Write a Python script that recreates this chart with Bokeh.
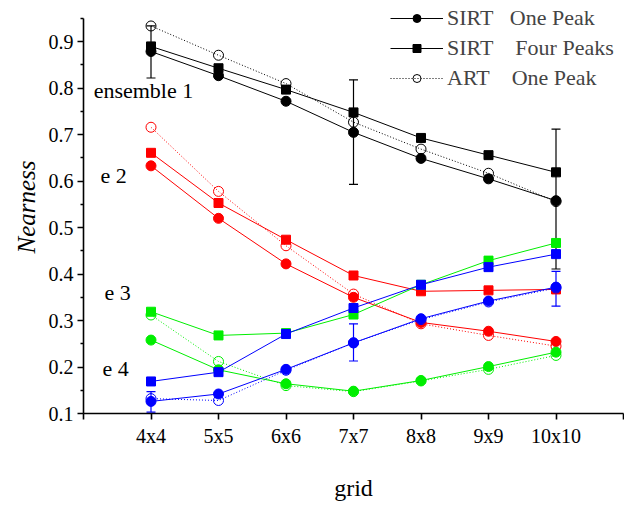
from bokeh.plotting import figure
from bokeh.models import (ColumnDataSource, FixedTicker, Legend, LegendItem,
                          Whisker, Label, TeeHead)
from bokeh.embed import file_html
from bokeh.resources import INLINE

# ---------------- data ----------------
grid_n = [4, 5, 6, 7, 8, 9, 10]
grid_labels = ["4x4", "5x5", "6x6", "7x7", "8x8", "9x9", "10x10"]

# ensemble 1 (black)
e1_sirt_one = [0.879, 0.827, 0.772, 0.705, 0.649, 0.605, 0.558]
e1_sirt_four = [0.890, 0.843, 0.797, 0.748, 0.693, 0.656, 0.619]
e1_art_one = [0.934, 0.871, 0.810, 0.727, 0.669, 0.617, 0.556]
# e 2 (red)
e2_sirt_one = [0.633, 0.520, 0.422, 0.350, 0.296, 0.277, 0.255]
e2_sirt_four = [0.661, 0.553, 0.474, 0.397, 0.363, 0.365, 0.367]
e2_art_one = [0.716, 0.578, 0.461, 0.357, 0.293, 0.268, 0.245]
# e 3 (green)
e3_sirt_one = [0.258, 0.194, 0.164, 0.148, 0.171, 0.201, 0.232]
e3_sirt_four = [0.319, 0.268, 0.273, 0.313, 0.377, 0.429, 0.467]
e3_art_one = [0.312, 0.212, 0.160, 0.147, 0.170, 0.195, 0.225]
# e 4 (blue)
e4_sirt_one = [0.126, 0.142, 0.195, 0.252, 0.304, 0.342, 0.372]
e4_sirt_four = [0.169, 0.189, 0.271, 0.327, 0.377, 0.415, 0.443]
e4_art_one = [0.132, 0.128, 0.193, 0.252, 0.302, 0.340, 0.370]

# error bars (SIRT One Peak)
err_n = [4, 7, 10]
e1_err_lower = [0.822, 0.593, 0.411]
e1_err_upper = [0.934, 0.818, 0.712]
e4_err_lower = [0.103, 0.213, 0.331]
e4_err_upper = [0.147, 0.293, 0.406]

group_names = ["ensemble 1", "e 2", "e 3", "e 4"]
group_label_x = [3.15, 3.25, 3.31, 3.28]
group_label_y = [0.795, 0.612, 0.361, 0.197]

legend_labels = ["SIRT\u00a0\u00a0\u00a0One Peak",
                 "SIRT\u00a0\u00a0\u00a0\u00a0Four Peaks",
                 "ART\u00a0\u00a0\u00a0\u00a0One Peak"]

FONT = "Liberation Serif"

# ---------------- figure ----------------
p = figure(width=624, height=505, output_backend="svg", toolbar_location=None,
           x_range=(3, 11), y_range=(0.1, 0.9888),
           min_border_left=83, min_border_right=1, min_border_top=0,
           min_border_bottom=92)
p.outline_line_color = None
p.xgrid.visible = False
p.ygrid.visible = False
p.background_fill_color = "white"
p.border_fill_color = "white"

# axes
p.xaxis.ticker = FixedTicker(ticks=[3, 4, 5, 6, 7, 8, 9, 10, 11], minor_ticks=[])
p.xaxis.major_label_overrides = {3: "", 11: "", **{n: l for n, l in zip(grid_n, grid_labels)}}
p.yaxis.ticker = FixedTicker(ticks=[0.1, 0.2, 0.3, 0.4, 0.5, 0.6, 0.7, 0.8, 0.9],
                             minor_ticks=[0.15, 0.25, 0.35, 0.45, 0.55, 0.65, 0.75, 0.85, 0.95])
p.yaxis.bounds = (0.1, 0.95)
for ax in (p.xaxis[0], p.yaxis[0]):
    ax.axis_line_width = 1.6
    ax.major_tick_line_width = 1.6
    ax.minor_tick_line_width = 1.6
    ax.major_tick_out = 6
    ax.major_tick_in = 0
    ax.minor_tick_out = 3
    ax.minor_tick_in = 0
    ax.major_label_text_font = FONT
    ax.major_label_text_font_size = "20px"
    ax.major_label_text_color = "black"
    ax.axis_label_text_font = FONT
    ax.axis_label_text_color = "black"
p.xaxis.major_label_standoff = 5
p.yaxis.major_label_standoff = 4
p.xaxis.axis_label = "grid"
p.xaxis.axis_label_text_font_size = "24px"
p.xaxis.axis_label_text_font_style = "normal"
p.xaxis.axis_label_standoff = 25
p.yaxis.axis_label = "Nearness"
p.yaxis.axis_label_text_font_size = "25px"
p.yaxis.axis_label_text_font_style = "italic"
p.yaxis.axis_label_standoff = 6

groups = [
    ("black", e1_sirt_one, e1_sirt_four, e1_art_one),
    ("#ff0000", e2_sirt_one, e2_sirt_four, e2_art_one),
    ("#00ee00", e3_sirt_one, e3_sirt_four, e3_art_one),
    ("#0000ff", e4_sirt_one, e4_sirt_four, e4_art_one),
]

legend_renderers = None
for color, one, four, art in groups:
    r_art_l = p.line(grid_n, art, line_color=color, line_width=1, line_dash="1 2")
    r_art_s = p.scatter(grid_n, art, marker="circle", size=10, fill_color=None,
                        line_color=color, line_width=1)
    r_four_l = p.line(grid_n, four, line_color=color, line_width=1)
    r_four_s = p.scatter(grid_n, four, marker="square", size=9, fill_color=color,
                         line_color=color, line_width=1)
    r_one_l = p.line(grid_n, one, line_color=color, line_width=1)
    r_one_s = p.scatter(grid_n, one, marker="circle", size=10, fill_color=color,
                        line_color=color, line_width=1)
    if legend_renderers is None:
        legend_renderers = [[r_one_l, r_one_s], [r_four_l, r_four_s], [r_art_l, r_art_s]]

# error bars
for color, lo, hi in (("black", e1_err_lower, e1_err_upper), ("#0000ff", e4_err_lower, e4_err_upper)):
    src = ColumnDataSource(dict(x=err_n, lower=lo, upper=hi))
    w = Whisker(source=src, base="x", lower="lower", upper="upper", dimension="height",
                line_color=color, line_width=1.2,
                upper_head=TeeHead(size=9, line_color=color, line_width=1.2),
                lower_head=TeeHead(size=9, line_color=color, line_width=1.2))
    p.add_layout(w)

# group labels
for name, lx, ly in zip(group_names, group_label_x, group_label_y):
    p.add_layout(Label(x=lx, y=ly, text=name, text_font=FONT, text_font_size="22px",
                       text_baseline="middle", text_align="left", text_color="black"))

legend = Legend(items=[LegendItem(label=lab, renderers=rs)
                       for lab, rs in zip(legend_labels, legend_renderers)],
                location=(307, 322), padding=0, margin=0, spacing=4,
                glyph_width=53, glyph_height=20, label_height=20, label_standoff=4,
                label_text_font=FONT, label_text_font_size="22px",
                border_line_color=None, background_fill_alpha=0)
p.add_layout(legend)

open("out.html", "w").write(file_html(p, INLINE))
